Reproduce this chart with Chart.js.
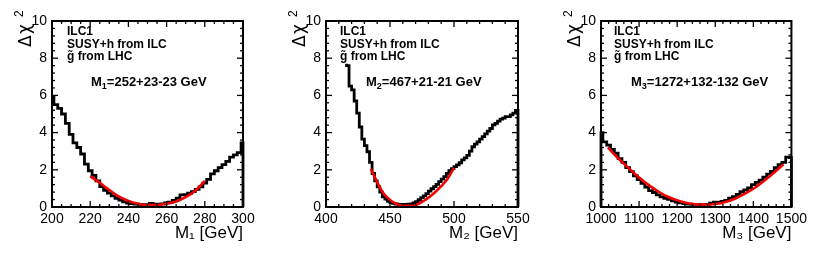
<!DOCTYPE html>
<html><head><meta charset="utf-8">
<script src="https://cdn.jsdelivr.net/npm/chart.js@4/dist/chart.umd.min.js"></script>
<style>
html,body{margin:0;padding:0;background:#fff;}
#wrap{position:relative;width:822px;height:255px;overflow:hidden;background:#fff;}
canvas{position:absolute;top:0;}
</style></head><body>
<div id="wrap">
<canvas id="c1" width="262" height="255" style="left:0px"></canvas>
<canvas id="c2" width="262" height="255" style="left:274px"></canvas>
<canvas id="c3" width="262" height="255" style="left:549px"></canvas>
</div>
<script>
// ---------- data ----------
const yTickLabels = [0, 2, 4, 6, 8, 10];

// Panel 1: M1
const m1Mass = [200,202,204,206,208,210,212,214,216,218,220,222,224,226,228,230,232,234,236,238,240,242,244,246,248,250,252,254,256,258,260,262,264,266,268,270,272,274,276,278,280,282,284,286,288,290,292,294,296,298,300,300];
const m1Chi2 = [5.9,5.5,5.3,5.0,4.5,3.9,3.45,3.2,2.85,2.3,1.95,1.7,1.4,1.1,0.9,0.75,0.6,0.47,0.37,0.28,0.21,0.18,0.16,0.14,0.13,0.12,0.2,0.15,0.15,0.17,0.22,0.26,0.36,0.48,0.65,0.66,0.74,0.83,0.95,1.08,1.28,1.48,1.78,1.95,2.12,2.28,2.45,2.68,2.8,2.92,3.45,0];
const m1FitMass = [220,225,229,234,240,245,250,255,259,265,270,275,280];
const m1FitChi2 = [1.66,1.3,0.99,0.62,0.32,0.17,0.1,0.1,0.16,0.3,0.53,0.87,1.4];
const m1TickLabels = [200,220,240,260,280,300];

// Panel 2: M2
const m2Mass = [415,417,419,421,423,425,427,429,431,433,435,437,439,441,443,445,447,449,451,453,455,457,459,461,463,465,467,469,471,473,475,477,479,481,483,485,487,489,491,493,495,497,499,501,503,505,507,509,511,513,515,517,519,521,523,525,527,529,531,533,535,537,539,541,543,545,547,549,550,550];
const m2Chi2 = [7.63,7.6,6.5,6.3,5.7,5.05,4.3,3.65,3.3,2.97,2.4,1.8,1.4,1.08,0.8,0.54,0.42,0.3,0.23,0.19,0.16,0.14,0.14,0.14,0.14,0.15,0.17,0.22,0.29,0.39,0.5,0.6,0.72,0.85,0.98,1.1,1.22,1.36,1.5,1.63,1.8,1.95,2.06,2.17,2.27,2.38,2.53,2.64,2.78,3.0,3.24,3.38,3.5,3.65,3.78,3.93,4.08,4.22,4.42,4.5,4.62,4.72,4.78,4.86,4.86,4.95,5.05,5.2,5.2,0];
const m2FitMass = [435,437.5,440,445,450,455,460,465,470,475,480,485,490,495,500];
const m2FitChi2 = [2.05,1.7,1.33,0.72,0.38,0.17,0.08,0.06,0.1,0.27,0.5,0.78,1.12,1.52,2.1];
const m2TickLabels = [400,450,500,550];

// Panel 3: M3
const m3Mass = [1000,1000,1010,1020,1030,1040,1050,1060,1070,1080,1090,1100,1110,1120,1130,1140,1150,1160,1170,1180,1190,1200,1210,1220,1230,1240,1250,1260,1270,1280,1290,1300,1310,1320,1330,1340,1350,1360,1370,1380,1390,1400,1410,1420,1430,1440,1450,1460,1470,1480,1490,1500,1500];
const m3Chi2 = [0,4.0,3.5,3.33,3.1,2.9,2.6,2.4,2.12,1.9,1.68,1.47,1.27,1.07,0.88,0.78,0.65,0.54,0.47,0.41,0.33,0.27,0.22,0.18,0.15,0.14,0.14,0.12,0.12,0.14,0.21,0.26,0.25,0.3,0.36,0.47,0.56,0.68,0.82,0.92,1.03,1.2,1.32,1.44,1.6,1.77,1.92,2.12,2.28,2.4,2.68,2.65,0];
const m3FitMass = [1018,1041,1067,1093,1119,1145,1171,1197,1223,1249,1275,1301,1327,1353,1379,1405,1431,1457,1479];
const m3FitChi2 = [3.2,2.7,2.2,1.71,1.27,0.91,0.59,0.38,0.23,0.14,0.12,0.16,0.27,0.46,0.73,1.05,1.45,1.89,2.3];
const m3TickLabels = [1000,1100,1200,1300,1400,1500];

const annotLines = ['ILC1', 'SUSY+h from ILC', 'g\u0303 from LHC'];
const resultLabels = [
  {sym:'M', sub:'1', text:'=252+23-23 GeV'},
  {sym:'M', sub:'2', text:'=467+21-21 GeV'},
  {sym:'M', sub:'3', text:'=1272+132-132 GeV'}
];
const xTitles = ['M\u2081 [GeV]', 'M\u2082 [GeV]', 'M\u2083 [GeV]'];

// ---------- drawing helpers ----------
const FONT = '"Liberation Sans", Arial, Helvetica, sans-serif';

const rootFrame = {
  id: 'rootFrame',
  afterDatasetsDraw(chart, args, o) {
    const {ctx, chartArea: a, scales: {x, y}} = chart;
    ctx.save();
    ctx.strokeStyle = '#000';
    ctx.lineWidth = 1.3;
    const seg = (x1, y1, x2, y2) => { ctx.beginPath(); ctx.moveTo(x1, y1); ctx.lineTo(x2, y2); ctx.stroke(); };
    for (let i = 0; ; i++) {
      const v = y.min + i * o.yMinor;
      if (v > y.max + 1e-9) break;
      const major = Math.abs(v / o.yMajor - Math.round(v / o.yMajor)) < 1e-6;
      const L = major ? 6 : 3;
      const py = y.getPixelForValue(v);
      seg(a.left, py, a.left + L, py);
      seg(a.right, py, a.right - L, py);
    }
    for (let i = 0; ; i++) {
      const v = x.min + i * o.xMinor;
      if (v > x.max + 1e-9) break;
      const major = Math.abs(v / o.xMajor - Math.round(v / o.xMajor)) < 1e-6;
      const L = major ? 6 : 3;
      const px = x.getPixelForValue(v);
      seg(px, a.bottom, px, a.bottom - L);
      seg(px, a.top, px, a.top + L);
    }
    ctx.lineWidth = 2;
    ctx.strokeRect(a.left, a.top, a.right - a.left, a.bottom - a.top);

    // y-axis title  Δχ²
    ctx.fillStyle = '#000';
    ctx.save();
    ctx.translate(32, 47);
    ctx.rotate(-Math.PI / 2);
    ctx.textAlign = 'left';
    ctx.textBaseline = 'alphabetic';
    ctx.font = '17px "DejaVu Sans", ' + FONT;
    ctx.fillText('\u0394', 0, -1);
    ctx.fillText('\u03C7', 13, -2);
    ctx.font = '12px ' + FONT;
    ctx.fillText('2', 30, -9);
    ctx.restore();

    // annotation text
    ctx.textAlign = 'left';
    ctx.textBaseline = 'alphabetic';
    ctx.font = 'bold 12px ' + FONT;
    annotLines.forEach((t, i) => {
      ctx.fillText(t, a.left + o.textX, a.top + 14 + i * 12.5);
    });
    const r = o.result;
    let tx = a.left + o.resX, ty = a.top + 65;
    ctx.font = 'bold 13px ' + FONT;
    ctx.fillText(r.sym, tx, ty); tx += ctx.measureText(r.sym).width;
    ctx.font = 'bold 9px ' + FONT;
    ctx.fillText(r.sub, tx, ty + 2.5); tx += ctx.measureText(r.sub).width;
    ctx.font = 'bold 13px ' + FONT;
    ctx.fillText(r.text, tx, ty);
    ctx.restore();
  }
};

function makePanel(id, mass, chi2, fitMass, fitChi2, tickLabels, xMin, xMax, xMajor, xMinor, xTitle, padRight, textX, resX, result) {
  const hist = mass.map((m, i) => ({x: m, y: chi2[i]}));
  const fit = fitMass.map((m, i) => ({x: m, y: fitChi2[i]}));
  new Chart(document.getElementById(id), {
    type: 'line',
    data: {
      datasets: [
        {data: hist, borderColor: '#000', borderWidth: 2.8, pointRadius: 0, stepped: 'middle', fill: false, clip: 4, order: 2},
        {data: fit, borderColor: 'rgb(240,0,0)', borderWidth: 2.6, pointRadius: 0, cubicInterpolationMode: 'monotone', fill: false, order: 1}
      ]
    },
    options: {
      responsive: false,
      animation: false,
      events: [],
      layout: {padding: {top: 21, right: padRight, bottom: 0, left: 0}},
      plugins: {
        legend: {display: false}, tooltip: {enabled: false},
        rootFrame: {yMajor: 2, yMinor: 0.4, xMajor: xMajor, xMinor: xMinor, textX: textX, resX: resX, result: result}
      },
      scales: {
        x: {
          type: 'linear', min: xMin, max: xMax,
          afterFit: s => { s.height = 48; },
          afterBuildTicks: s => { s.ticks = tickLabels.map(v => ({value: v})); },
          grid: {display: false, drawTicks: false},
          border: {display: false},
          ticks: {color: '#000', padding: 4, maxRotation: 0, autoSkip: false, font: {family: FONT, size: 14}, callback: v => String(v)},
          title: {display: true, text: xTitle, align: 'end', color: '#000', font: {family: FONT, size: 17}, padding: {top: 0, bottom: 11}}
        },
        y: {
          type: 'linear', min: 0, max: 10,
          afterFit: s => { s.width = 52; },
          afterBuildTicks: s => { s.ticks = yTickLabels.map(v => ({value: v})); },
          grid: {display: false, drawTicks: false},
          border: {display: false},
          ticks: {color: '#000', padding: 5, font: {family: FONT, size: 14}, callback: v => String(v)}
        }
      }
    },
    plugins: [rootFrame]
  });
}

makePanel('c1', m1Mass, m1Chi2, m1FitMass, m1FitChi2, m1TickLabels, 200, 300, 20, 5, xTitles[0], 19, 15, 39, resultLabels[0]);
makePanel('c2', m2Mass, m2Chi2, m2FitMass, m2FitChi2, m2TickLabels, 400, 550, 50, 10, xTitles[1], 18, 14, 40, resultLabels[1]);
makePanel('c3', m3Mass, m3Chi2, m3FitMass, m3FitChi2, m3TickLabels, 1000, 1500, 100, 20, xTitles[2], 18, 13, 30, resultLabels[2]);
</script>
</body></html>
